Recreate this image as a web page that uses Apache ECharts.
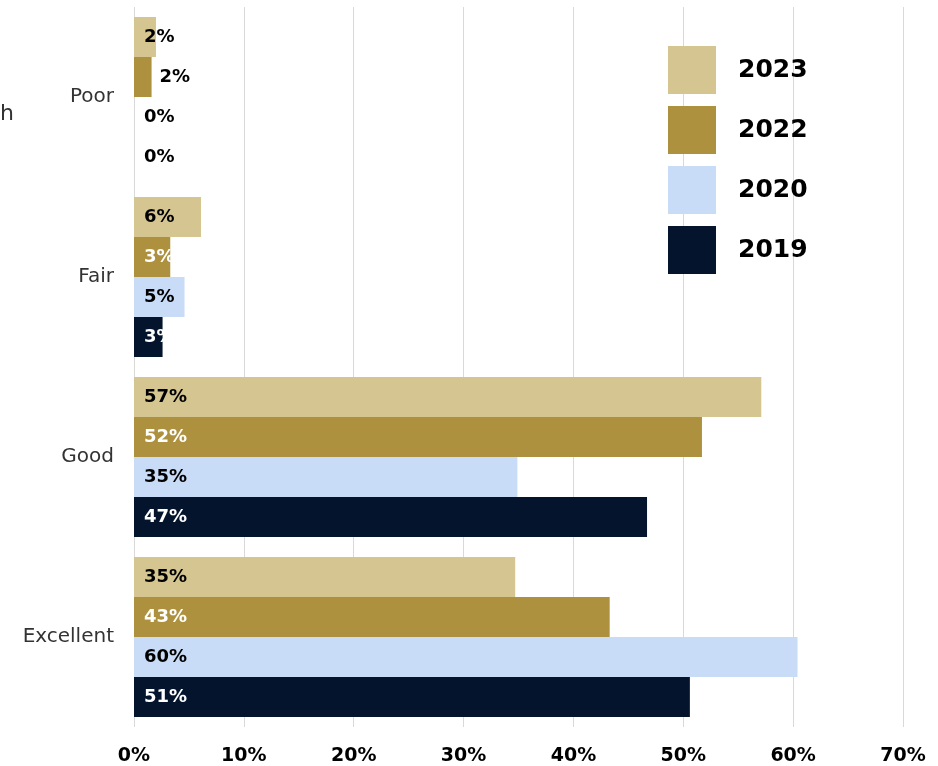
<!DOCTYPE html>
<html>
<head>
<meta charset="utf-8">
<script src="https://cdn.jsdelivr.net/npm/echarts@6/dist/echarts.min.js"></script>
<style>
  html, body { margin: 0; padding: 0; background: #fff; }
  #chart { width: 938px; height: 766px; }
</style>
</head>
<body>
<div id="chart"></div>
<script>
// Ratings by year, share of responses (%)
const categories = ['Poor', 'Fair', 'Good', 'Excellent'];
const years = ['2023', '2022', '2020', '2019'];
const values2023 = [2.0, 6.1, 57.1, 34.7];
const values2022 = [1.6, 3.3, 51.7, 43.3];
const values2020 = [0, 4.6, 34.9, 60.4];
const values2019 = [0, 2.6, 46.7, 50.6];
const xTicks = [0, 10, 20, 30, 40, 50, 60, 70];

const colors = ['#d5c591', '#ad913e', '#c8dcf7', '#03142c'];
const labelColors = ['#000', '#fff', '#000', '#fff'];
const font = '"DejaVu Sans", "Noto Sans", sans-serif';

function makeSeries(name, values, idx) {
  return {
    name: name,
    type: 'bar',
    barGap: '0%',
    barCategoryGap: '11.1%',
    itemStyle: { color: colors[idx] },
    label: {
      show: true,
      position: 'insideLeft',
      distance: 10,
      color: labelColors[idx],
      fontFamily: font,
      fontWeight: 'bold',
      fontSize: 18,
      formatter: p => Math.round(p.value) + '%'
    },
    data: values.map(v => {
      // zero-length bars and very short dark bars show their label in black
      if (v === 0) return { value: v, label: { color: '#000' } };
      if (idx === 1 && v < 2) return { value: v, label: { position: 'right', distance: 8, color: '#000' } };
      return v;
    })
  };
}

const chart = echarts.init(document.getElementById('chart'));
chart.setOption({
  animation: false,
  grid: { left: 134, right: 35, top: 7, bottom: 39 },
  legend: {
    orient: 'vertical',
    left: 663,
    top: 41,
    itemWidth: 48,
    itemHeight: 48,
    itemGap: 12,
    icon: 'rect',
    data: years,
    textStyle: { fontFamily: font, fontWeight: 'bold', fontSize: 25, color: '#000', padding: [0, 0, 0, 17] }
  },
  xAxis: {
    type: 'value',
    min: xTicks[0],
    max: xTicks[xTicks.length - 1],
    interval: 10,
    axisLine: { show: false },
    axisTick: { show: false },
    splitLine: { show: true, lineStyle: { color: '#d9d9d9', width: 1 } },
    axisLabel: {
      margin: 20,
      fontFamily: font,
      fontWeight: 'bold',
      fontSize: 19,
      color: '#000',
      formatter: v => v + '%'
    }
  },
  yAxis: {
    type: 'category',
    data: categories,
    inverse: true,
    axisLine: { show: false },
    axisTick: { show: false },
    axisLabel: { margin: 20, fontFamily: font, fontSize: 20, color: '#333' }
  },
  graphic: [{
    type: 'text',
    left: 0,
    top: 103,
    style: { text: 'h', font: '22px ' + font, fill: '#333' }
  }],
  series: [
    makeSeries(years[0], values2023, 0),
    makeSeries(years[1], values2022, 1),
    makeSeries(years[2], values2020, 2),
    makeSeries(years[3], values2019, 3)
  ]
});
</script>
</body>
</html>
